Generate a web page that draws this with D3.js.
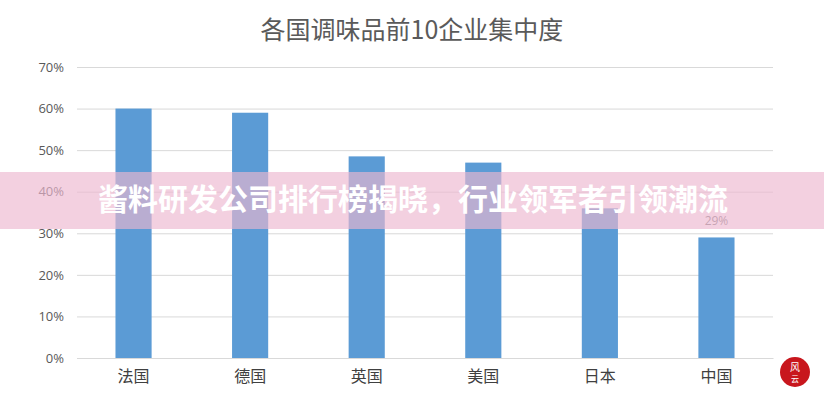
<!DOCTYPE html>
<html><head><meta charset="utf-8">
<script src="https://cdn.jsdelivr.net/npm/d3@7"></script>
<style>body{margin:0;background:#fff}svg{display:block}</style>
</head><body>
<svg id="c" width="824" height="400"></svg>
<script>
const title = "各国调味品前10企业集中度";
const categories = ["法国","德国","英国","美国","日本","中国"];
const values = [0.60, 0.59, 0.485, 0.47, 0.36, 0.29];
const tickValues = [0,0.1,0.2,0.3,0.4,0.5,0.6,0.7];
const labelledIndex = [5];
const bannerText = "酱料研发公司排行榜揭晓，行业领军者引领潮流";

const svg = d3.select("#c");
const m = {l:77, r:773, t:67, b:358};
const x = d3.scaleBand().domain(categories).range([m.l, m.r]).paddingInner(0.69).paddingOuter(0.33);
const y = d3.scaleLinear().domain([0,0.7]).range([m.b, m.t]);
const font = "'Noto Sans CJK SC','Noto Sans',sans-serif";

svg.append("text").attr("x",412).attr("y",39).attr("text-anchor","middle")
  .attr("font-family",font).attr("font-size",25).attr("fill","#5a5a5a").text(title);

const ya = svg.append("g").attr("transform",`translate(${m.l},0)`)
  .call(d3.axisLeft(y).tickValues(tickValues).tickFormat(d3.format(".0%")).tickSize(-(m.r-m.l)).tickPadding(13));
ya.select(".domain").remove();
ya.selectAll("line").attr("stroke","#d9d9d9").attr("stroke-width",1);
ya.selectAll("text").attr("font-family","'Open Sans','DejaVu Sans',sans-serif").attr("font-size",13).attr("fill","#595959");

svg.append("g").selectAll("rect").data(values).join("rect")
  .attr("x",(d,i)=>x(categories[i])).attr("width",x.bandwidth())
  .attr("y",d=>y(d)).attr("height",d=>y(0)-y(d)).attr("fill","#5b9bd5");

const xa = svg.append("g").attr("transform",`translate(0,${m.b})`)
  .call(d3.axisBottom(x).tickSize(0).tickPadding(13));
xa.select(".domain").attr("stroke","#d9d9d9");
xa.selectAll("text").attr("font-family",font).attr("font-size",16).attr("fill","#404040");

svg.append("g").selectAll("text").data(labelledIndex).join("text")
  .attr("x",i=>x(categories[i])+x.bandwidth()/2).attr("y",i=>y(values[i])-12)
  .attr("text-anchor","middle").attr("font-family","'Open Sans',sans-serif").attr("font-size",12).attr("fill","#7f7f7f")
  .text(i=>d3.format(".0%")(values[i]));

// overlay banner
svg.append("rect").attr("x",0).attr("y",172).attr("width",824).attr("height",57)
  .attr("fill","rgb(237,183,208)").attr("fill-opacity",0.65);
svg.append("text").attr("x",98).attr("y",210).attr("font-family",font).attr("font-weight","bold")
  .attr("font-size",30).attr("fill","#fff").text(bannerText);

// seal
const seal = svg.append("g").attr("transform","translate(795,372)");
seal.append("circle").attr("r",15).attr("fill","#c8161d");
seal.append("text").attr("text-anchor","middle").attr("y",-1).attr("font-family",font).attr("font-size",10).attr("fill","#fff").text("风");
seal.append("text").attr("text-anchor","middle").attr("y",10).attr("font-family",font).attr("font-size",8).attr("fill","#fff").text("云");
</script>
</body></html>
